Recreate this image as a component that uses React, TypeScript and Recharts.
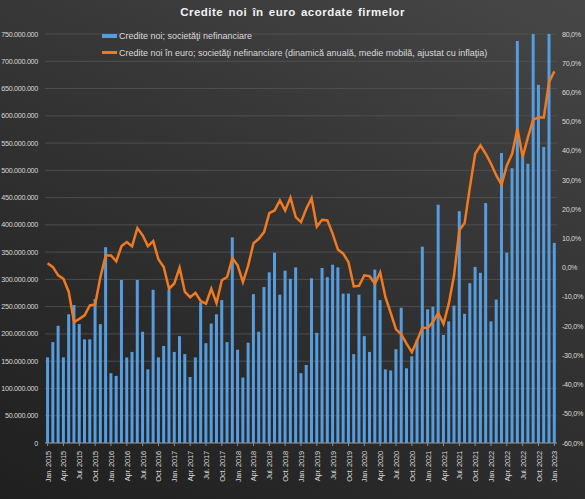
import { Bar, CartesianGrid, ComposedChart, Legend, Line, XAxis, YAxis } from "recharts"

const monthNames = ["Jan.", "Feb.", "Mar.", "Apr.", "May", "Jun.", "Jul.", "Aug.", "Sep.", "Oct.", "Nov.", "Dec."]
const years = [2015, 2016, 2017, 2018, 2019, 2020, 2021, 2022, 2023]

// credite noi, milioane euro
const newLoans = [
  157, 185, 215, 157, 236, 253, 218, 190, 190, 264, 218, 359,
  128, 123, 299, 157, 167, 299, 204, 135, 281, 157, 178, 281,
  167, 196, 163, 121, 157, 258, 183, 219, 236, 262, 185, 377,
  171, 120, 184, 273, 204, 286, 313, 349, 272, 316, 301, 322,
  128, 143, 302, 202, 321, 304, 327, 322, 274, 274, 163, 272,
  196, 167, 318, 262, 135, 133, 172, 248, 137, 159, 190, 360,
  245, 250, 437, 198, 223, 252, 425, 237, 293, 323, 312, 440,
  223, 263, 532, 349, 504, 737, 526, 512, 750, 657, 543, 750,
  367,
]

// dinamica anuala, medie mobila, ajustat cu inflatia (%)
const annualDynamics = [
  1.5, 0.2, -2.6, -3.8, -8.3, -18.6, -17.5, -16.3, -12.9, -12.6, -3.2, 4.2,
  4.2, 2.2, 7.4, 8.8, 7.3, 13.6, 11.1, 7.4, 9.1, 2.8, 0.2, -7.2,
  -5.4, 0.0, -8.3, -10.1, -8.6, -11.4, -12.3, -7.2, -12.1, -4.3, -3.2, 3.3,
  0.8, -4.9, 0.8, 8.4, 9.9, 12.2, 18.7, 19.6, 23.0, 19.6, 24.0, 17.3,
  15.6, 20.2, 23.8, 14.1, 16.4, 16.2, 11.6, 6.2, 4.8, 1.9, -6.4, -6.2,
  -2.6, -2.9, -5.5, -1.6, -10.1, -15.5, -21.1, -22.8, -26.0, -28.9, -24.9, -20.5,
  -20.7, -18.5, -15.5, -19.2, -12.3, -2.6, 12.8, 15.3, 27.6, 39.0, 41.9, 39.0,
  35.6, 31.6, 28.4, 35.0, 39.0, 47.6, 37.9, 44.7, 50.7, 51.4, 51.4, 63.6,
  67.2,
]

const leftTicks = [0, 50, 100, 150, 200, 250, 300, 350, 400, 450, 500, 550, 600, 650, 700, 750].map((v) => v * 1000000)
const rightTicks = [-60, -50, -40, -30, -20, -10, 0, 10, 20, 30, 40, 50, 60, 70, 80]

const categories = years.flatMap((y) => monthNames.map((m) => `${m} ${y}`)).slice(0, newLoans.length)

const data = categories.map((month, i) => ({
  month,
  loans: newLoans[i] * 1000000,
  dynamics: annualDynamics[i],
}))

const font = "'Liberation Sans', Arial, sans-serif"
const labelColor = "#d9d9d9"
const tickStyle = { fontSize: 7.2, fontFamily: font, fill: labelColor, letterSpacing: -0.3 }

const fmtMoney = (v: number) => (v === 0 ? "0" : v.toLocaleString("de-DE"))
const fmtPct = (v: number) => `${v.toFixed(1).replace(".", ",")}%`

function MonthTick({ x, y, payload }: any) {
  return (
    <g transform={`translate(${x},${y + 3})`}>
      <text
        transform="rotate(-90)"
        textAnchor="end"
        dy={3}
        fontSize={7.5}
        letterSpacing={-0.2}
        fontFamily={font}
        fill={labelColor}
      >
        {payload.value}
      </text>
    </g>
  )
}

function LegendBox() {
  const row = { display: "flex", alignItems: "center", height: 17, whiteSpace: "nowrap" as const }
  return (
    <div style={{ fontFamily: font, fontSize: 9, color: labelColor }}>
      <div style={row}>
        <span style={{ display: "inline-block", width: 15, height: 4, background: "#559ddf", marginRight: 2 }} />
        Credite noi; societăţi nefinanciare
      </div>
      <div style={row}>
        <span style={{ display: "inline-block", width: 15, height: 2.5, background: "#f07a22", marginRight: 2 }} />
        Credite noi în euro; societăţi nefinanciare (dinamică anuală, medie mobilă, ajustat cu inflaţia)
      </div>
    </div>
  )
}

export default function App() {
  return (
    <div
      style={{
        position: "absolute",
        left: 0,
        top: 0,
        width: 585,
        height: 499,
        background: "linear-gradient(205deg, #474747 0%, #353535 40%, #1f1f1f 100%)",
      }}
    >
      <div
        style={{
          position: "absolute",
          top: 6,
          left: 0,
          width: 585,
          textAlign: "center",
          fontFamily: font,
          fontWeight: "bold",
          fontSize: 11.5,
          letterSpacing: 0.5,
          wordSpacing: 1.5,
          color: "#f2f2f2",
        }}
      >
        Credite noi în euro acordate firmelor
      </div>
      <ComposedChart width={585} height={499} data={data} margin={{ top: 34, right: 0, bottom: 0, left: 0 }} barCategoryGap="20%">
        <CartesianGrid yAxisId="left" vertical={false} stroke="#555555" strokeOpacity={0.8} />
        <XAxis
          dataKey="month"
          height={56}
          interval={2}
          tick={<MonthTick />}
          tickSize={3}
          axisLine={{ stroke: "#8c8c8c" }}
          tickLine={{ stroke: "#8c8c8c" }}
        />
        <YAxis
          yAxisId="left"
          width={45}
          domain={[0, 750000000]}
          ticks={leftTicks}
          allowDataOverflow
          tickFormatter={fmtMoney}
          axisLine={false}
          tickLine={false}
          tickSize={0}
          tickMargin={7}
          tick={tickStyle}
        />
        <YAxis
          yAxisId="right"
          orientation="right"
          width={28}
          domain={[-60, 80]}
          ticks={rightTicks}
          allowDataOverflow
          tickFormatter={fmtPct}
          axisLine={false}
          tickLine={false}
          tickSize={0}
          tickMargin={5}
          tick={tickStyle}
        />
        <Legend
          layout="vertical"
          align="center"
          verticalAlign="middle"
          wrapperStyle={{ top: 27, left: 102, width: 420 }}
          content={() => <LegendBox />}
        />
        <Bar yAxisId="left" dataKey="loans" fill="#559ddf" isAnimationActive={false} />
        <Line
          yAxisId="right"
          dataKey="dynamics"
          type="linear"
          stroke="#f07a22"
          strokeWidth={2.5}
          dot={false}
          isAnimationActive={false}
        />
      </ComposedChart>
    </div>
  )
}
